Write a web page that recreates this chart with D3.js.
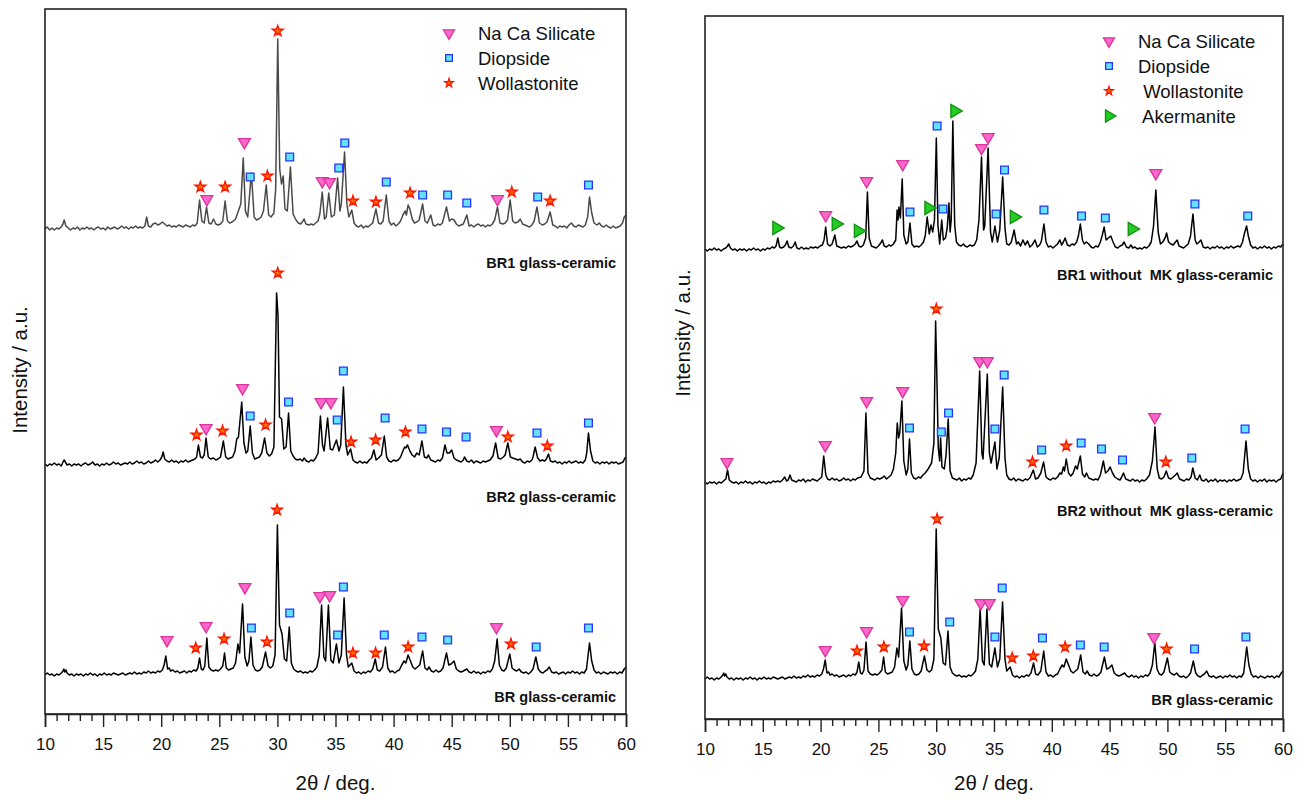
<!DOCTYPE html>
<html><head><meta charset="utf-8">
<script src="https://cdn.jsdelivr.net/npm/d3@7"></script>
<style>body{margin:0;background:#fff} text{font-family:"Liberation Sans",Arial,sans-serif}</style>
</head><body><svg id="c" width="1304" height="800"></svg>
<script>
// ---------- axis / labels ----------
const TICKS = d3.range(10, 61, 1);
const TICK_LABELS = [10, 15, 20, 25, 30, 35, 40, 45, 50, 55, 60];
const X_TITLE = "2θ / deg.";
const Y_TITLE = "Intensity / a.u.";
const LEGEND_LEFT = ["Na Ca Silicate", "Diopside", "Wollastonite"];
const LEGEND_LEFT_KEYS = ["nacas", "diop", "woll"];
const LEGEND_RIGHT = ["Na Ca Silicate", "Diopside", " Wollastonite", " Akermanite"];
const LEGEND_RIGHT_KEYS = ["nacas", "diop", "woll", "aker"];
const LABELS_LEFT = ["BR1 glass-ceramic", "BR2 glass-ceramic", "BR glass-ceramic"];
const LABELS_RIGHT = ["BR1 without  MK glass-ceramic", "BR2 without  MK glass-ceramic", "BR glass-ceramic"];
// vertical stacking offsets of each pattern (a.u.)
const OFFSETS_LEFT = [485, 249, 39];
const OFFSETS_RIGHT = [469, 236, 40];

// ---------- patterns: [2theta, intensity above own baseline] ----------
const BR1 = [10.0,0,10.2,2,10.4,-1,10.6,1,10.8,-1,11.0,1,11.2,0,11.4,2,11.55,5,11.65,9,11.8,3,12.0,1,12.2,-1,12.4,1,12.6,0,12.8,2,13.0,-1,13.2,1,13.4,0,13.6,2,13.8,0,14.0,1,14.2,-1,14.4,1,14.6,2,14.8,0,15.0,1,15.2,-1,15.4,2,15.6,0,15.8,1,16.0,2,16.2,0,16.4,1,16.6,3,16.8,1,17.0,2,17.2,0,17.4,2,17.6,1,17.8,3,18.0,1,18.2,2,18.4,1,18.6,3,18.75,12,18.9,3,19.1,2,19.3,5,19.5,6,19.7,4,19.9,5,20.1,7,20.3,5,20.5,3,20.7,4,20.9,2,21.1,3,21.3,2,21.5,4,21.7,3,21.9,2,22.1,4,22.3,3,22.5,2,22.7,4,22.9,3,23.1,6,23.3,29,23.5,8,23.7,6,23.9,22,24.1,6,24.3,5,24.5,10,24.7,5,24.9,4,25.1,5,25.3,8,25.5,28,25.7,8,25.9,6,26.1,7,26.4,10,26.7,20,26.85,25,27.06,71,27.25,18,27.45,12,27.76,56,28.0,12,28.2,9,28.4,10,28.6,12,28.8,18,29.04,44,29.25,14,29.45,12,29.7,16,29.85,40,30.03,190,30.2,60,30.35,45,30.5,53,30.65,20,30.85,18,31.12,62,31.35,15,31.6,9,31.8,6,32.0,5,32.2,8,32.3,10,32.45,5,32.7,4,32.9,5,33.1,4,33.3,6,33.5,8,33.65,15,33.86,37,34.05,10,34.2,12,34.42,36,34.65,12,34.9,14,35.18,51,35.38,18,35.5,25,35.78,77,35.98,25,36.15,12,36.4,19,36.6,6,36.8,3,37.0,2,37.2,4,37.4,1,37.6,3,37.8,2,38.0,4,38.2,6,38.48,20,38.7,6,38.9,5,39.1,8,39.37,34,39.6,8,39.8,4,40.0,6,40.2,3,40.4,5,40.6,8,40.8,14,41.0,18,41.1,14,41.25,24,41.4,20,41.6,10,41.8,6,42.0,7,42.2,9,42.5,25,42.7,8,42.9,6,43.2,14,43.4,4,43.6,3,43.8,5,44.0,4,44.2,6,44.55,22,44.8,8,45.0,10,45.2,9,45.4,5,45.6,3,45.8,4,46.0,5,46.3,14,46.5,3,46.7,4,46.9,2,47.1,4,47.3,5,47.5,3,47.7,4,47.9,2,48.1,4,48.3,3,48.5,5,48.7,9,48.94,22,49.15,6,49.4,5,49.6,6,49.8,9,50.03,29,50.25,8,50.45,6,50.7,7,50.9,10,51.1,5,51.3,4,51.5,3,51.7,2,51.9,4,52.1,8,52.34,22,52.55,6,52.8,4,53.0,5,53.2,7,53.47,17,53.7,4,53.9,3,54.1,1,54.3,3,54.5,2,54.7,3,54.9,1,55.1,4,55.3,6,55.5,3,55.7,2,55.9,4,56.1,3,56.3,2,56.5,4,56.7,12,56.86,32,57.05,16,57.25,6,57.5,4,57.7,6,57.9,3,58.1,2,58.3,4,58.5,2,58.7,1,58.9,3,59.1,1,59.3,2,59.5,3,59.7,6,59.85,12,60.0,14];

const BR2 = [10.0,1,10.2,-1,10.4,1,10.6,0,10.8,2,11.0,0,11.2,1,11.4,-1,11.55,3,11.65,5,11.75,3,11.9,0,12.1,1,12.3,-1,12.5,1,12.7,0,12.9,1,13.1,-1,13.3,1,13.5,2,13.7,0,13.9,1,14.1,3,14.3,0,14.5,1,14.7,-1,14.9,1,15.1,0,15.3,2,15.5,0,15.7,1,15.9,3,16.1,1,16.3,2,16.5,0,16.7,1,16.9,2,17.1,1,17.3,3,17.5,1,17.7,2,17.9,4,18.1,2,18.3,3,18.5,1,18.7,2,18.9,4,19.1,2,19.3,3,19.5,5,19.7,3,19.9,5,20.05,8,20.17,13,20.3,6,20.5,4,20.7,3,20.9,5,21.1,3,21.3,4,21.5,2,21.7,4,21.9,3,22.1,5,22.3,3,22.5,4,22.7,5,22.9,6,23.05,8,23.2,20,23.38,8,23.55,7,23.7,10,23.86,27,24.05,8,24.25,6,24.5,7,24.7,5,24.9,6,25.1,8,25.35,24,25.55,8,25.75,6,25.95,7,26.15,8,26.35,14,26.5,26,26.65,28,26.93,63,27.12,22,27.3,12,27.45,14,27.66,39,27.85,12,28.05,6,28.25,7,28.45,8,28.65,12,28.9,27,29.1,12,29.3,9,29.5,11,29.7,18,29.93,172,30.05,150,30.18,48,30.36,46,30.55,16,30.75,18,30.96,52,31.15,14,31.35,9,31.55,6,31.75,5,31.95,6,32.15,4,32.3,7,32.5,4,32.7,3,32.9,5,33.1,4,33.3,7,33.5,12,33.7,49,33.88,20,34.02,14,34.32,47,34.55,16,34.75,15,35.08,25,35.3,14,35.45,20,35.68,78,35.9,20,36.05,10,36.3,16,36.5,5,36.7,3,36.9,2,37.1,4,37.3,2,37.5,3,37.7,2,37.9,5,38.1,7,38.3,15,38.5,5,38.7,7,38.95,10,39.2,29,39.4,8,39.6,4,39.8,3,40.0,5,40.2,4,40.4,5,40.6,8,40.8,14,40.95,18,41.05,17,41.2,20,41.4,14,41.6,10,41.8,8,42.0,12,42.2,10,42.44,24,42.65,8,42.85,7,43.0,10,43.2,5,43.4,4,43.6,3,43.8,5,44.0,4,44.2,7,44.42,20,44.6,12,44.8,12,45.0,15,45.2,7,45.4,5,45.6,4,45.8,3,46.0,5,46.1,8,46.3,4,46.5,3,46.7,5,46.9,2,47.1,4,47.3,3,47.5,2,47.7,4,47.9,3,48.1,4,48.3,5,48.55,9,48.78,22,49.0,7,49.2,6,49.45,8,49.6,10,49.83,22,50.05,8,50.25,7,50.5,6,50.7,5,50.9,6,51.1,3,51.3,2,51.5,4,51.7,3,51.9,5,52.0,8,52.18,18,52.4,7,52.6,4,52.8,5,53.0,4,53.15,6,53.33,11,53.5,4,53.7,3,53.9,4,54.1,2,54.3,3,54.5,1,54.7,3,54.9,2,55.1,4,55.3,2,55.5,3,55.7,4,55.9,2,56.1,3,56.3,2,56.5,5,56.62,12,56.77,32,56.95,14,57.15,4,57.35,2,57.55,3,57.75,1,57.95,3,58.15,2,58.35,3,58.55,1,58.75,3,58.95,2,59.15,3,59.35,1,59.55,2,59.75,3,59.9,7,60.0,8];

const BR = [10.0,0,10.2,2,10.4,0,10.6,1,10.8,-1,11.0,1,11.2,0,11.4,2,11.55,4,11.62,6,11.7,3,11.8,5,11.9,2,12.1,0,12.3,1,12.5,-1,12.7,1,12.9,0,13.1,1,13.3,-1,13.5,1,13.7,0,13.9,2,14.1,0,14.3,1,14.5,-1,14.7,1,14.9,0,15.1,2,15.3,0,15.5,1,15.7,0,15.9,2,16.1,1,16.3,0,16.5,1,16.7,2,16.9,0,17.1,1,17.3,2,17.5,1,17.7,3,17.9,1,18.1,2,18.3,1,18.5,3,18.7,2,18.9,4,19.1,2,19.3,3,19.5,2,19.7,4,19.9,3,20.1,5,20.25,10,20.4,19,20.55,6,20.7,7,20.8,4,21.0,5,21.2,3,21.4,4,21.6,2,21.8,3,22.0,4,22.2,2,22.4,4,22.6,3,22.8,5,23.0,4,23.15,7,23.3,17,23.45,6,23.6,5,23.75,9,23.93,37,24.1,8,24.3,5,24.5,4,24.7,5,24.9,4,25.1,6,25.3,9,25.45,22,25.6,7,25.8,5,26.0,6,26.2,7,26.4,12,26.6,31,26.75,22,27.0,71,27.2,18,27.4,9,27.55,14,27.72,38,27.9,10,28.1,5,28.3,4,28.5,5,28.7,8,28.98,23,29.2,9,29.4,7,29.6,9,29.8,20,30.0,150,30.18,50,30.4,41,30.6,16,30.8,14,31.02,48,31.2,12,31.4,6,31.6,4,31.8,3,32.0,4,32.2,2,32.4,3,32.6,2,32.8,4,33.0,3,33.2,5,33.4,8,33.6,20,33.8,70,34.0,18,34.15,14,34.39,70,34.6,15,34.8,12,35.08,31,35.3,12,35.5,20,35.74,77,35.95,20,36.1,8,36.4,12,36.6,4,36.8,2,37.0,3,37.2,1,37.4,3,37.6,2,37.8,4,38.0,3,38.2,6,38.42,16,38.6,5,38.8,4,39.05,8,39.3,28,39.5,7,39.7,3,39.9,4,40.1,2,40.3,4,40.5,5,40.7,10,40.9,14,41.05,12,41.25,20,41.45,14,41.65,8,41.85,6,42.05,8,42.25,10,42.5,24,42.7,7,42.9,5,43.05,8,43.25,4,43.45,3,43.65,5,43.85,3,44.05,4,44.25,7,44.55,22,44.75,10,44.95,11,45.2,14,45.4,6,45.6,4,45.8,3,46.0,4,46.3,6,46.5,3,46.7,2,46.9,4,47.1,2,47.3,3,47.5,1,47.7,3,47.9,2,48.1,4,48.3,3,48.5,6,48.7,14,48.91,36,49.1,10,49.3,5,49.5,4,49.7,7,50.0,21,50.2,7,50.4,5,50.6,4,50.8,6,51.0,3,51.2,2,51.4,3,51.6,1,51.8,3,52.0,6,52.24,18,52.45,6,52.65,3,52.85,2,53.05,4,53.2,5,53.4,8,53.6,3,53.8,2,54.0,3,54.2,1,54.4,2,54.6,3,54.8,1,55.0,3,55.2,2,55.4,4,55.6,2,55.8,3,56.0,1,56.2,3,56.4,2,56.6,6,56.86,32,57.05,14,57.25,5,57.45,2,57.65,3,57.85,1,58.05,3,58.25,2,58.45,1,58.65,3,58.85,2,59.05,3,59.25,1,59.45,3,59.65,2,59.85,6,60.0,8];

const BR1_NOMK = [10.0,1,10.2,-1,10.4,1,10.6,0,10.8,2,11.0,0,11.2,1,11.4,-1,11.6,1,11.8,2,11.95,4,12.05,6,12.2,2,12.4,0,12.6,1,12.8,-1,13.0,1,13.2,0,13.4,1,13.6,-1,13.8,1,14.0,0,14.2,2,14.4,0,14.6,1,14.8,-1,15.0,1,15.2,0,15.4,2,15.6,1,15.8,3,16.0,2,16.15,4,16.3,12,16.45,3,16.6,2,16.8,3,16.95,5,17.1,9,17.25,3,17.45,2,17.65,4,17.8,8,17.95,2,18.15,1,18.35,3,18.55,1,18.75,2,18.95,1,19.15,3,19.35,2,19.55,3,19.75,2,19.95,4,20.15,5,20.3,10,20.44,23,20.6,6,20.8,4,21.0,6,21.23,15,21.4,4,21.6,3,21.8,2,22.0,3,22.2,2,22.4,4,22.6,3,22.8,4,23.0,6,23.15,9,23.3,4,23.5,3,23.7,5,23.9,12,24.05,58,24.2,12,24.4,4,24.6,3,24.8,2,25.0,4,25.2,7,25.35,10,25.5,4,25.7,3,25.9,5,26.1,4,26.3,6,26.5,10,26.62,40,26.7,30,26.78,43,26.9,32,27.06,71,27.2,15,27.4,6,27.55,8,27.73,27,27.9,6,28.1,3,28.3,4,28.5,3,28.7,5,28.9,8,29.05,14,29.22,33,29.4,16,29.55,25,29.7,18,29.85,30,30.01,112,30.15,25,30.3,6,30.48,30,30.62,10,30.8,12,30.95,22,31.1,47,31.2,18,31.3,30,31.44,129,31.6,25,31.75,8,31.95,5,32.15,4,32.35,6,32.5,4,32.7,3,32.9,5,33.1,4,33.3,5,33.5,10,33.7,30,33.92,93,34.1,20,34.2,24,34.49,102,34.7,18,34.85,8,35.08,24,35.3,8,35.5,20,35.75,73,35.95,22,36.1,6,36.3,5,36.5,8,36.74,20,36.95,6,37.1,8,37.3,4,37.5,10,37.7,5,37.9,9,38.1,3,38.3,5,38.55,10,38.75,3,38.95,5,39.1,9,39.32,26,39.5,8,39.7,3,39.9,4,40.1,2,40.3,4,40.5,6,40.7,10,40.85,5,41.0,8,41.15,12,41.35,5,41.55,4,41.75,6,41.95,5,42.15,8,42.3,14,42.47,26,42.65,10,42.8,6,43.0,8,43.2,6,43.4,3,43.6,2,43.8,4,44.0,3,44.2,8,44.35,14,44.53,23,44.7,10,44.9,12,45.1,14,45.3,8,45.5,3,45.7,2,45.9,4,46.1,5,46.25,8,46.45,3,46.65,2,46.85,5,47.0,2,47.2,3,47.4,1,47.6,2,47.8,1,48.0,3,48.2,2,48.4,4,48.6,8,48.8,24,49.0,60,49.2,18,49.4,6,49.6,8,49.8,12,49.93,17,50.1,8,50.3,6,50.5,5,50.7,8,50.85,10,51.0,4,51.2,3,51.4,2,51.6,4,51.8,6,52.0,14,52.21,36,52.4,10,52.55,6,52.75,8,52.9,10,53.1,3,53.3,2,53.5,3,53.7,1,53.9,3,54.1,2,54.3,4,54.5,2,54.7,3,54.9,1,55.1,3,55.3,2,55.5,4,55.7,2,55.9,3,56.1,4,56.3,3,56.5,8,56.65,16,56.85,24,57.0,14,57.2,5,57.4,2,57.6,3,57.8,1,58.0,3,58.2,2,58.4,4,58.6,2,58.8,3,59.0,1,59.2,3,59.4,2,59.6,4,59.8,3,60.0,6];

const BR2_NOMK = [10.0,1,10.2,-1,10.4,1,10.6,0,10.8,1,11.0,-1,11.2,1,11.4,0,11.6,2,11.8,4,11.95,13,12.1,3,12.3,1,12.5,0,12.7,1,12.9,-1,13.1,1,13.3,0,13.5,2,13.7,0,13.9,1,14.1,-1,14.3,1,14.5,0,14.7,2,14.9,0,15.1,1,15.3,-1,15.5,1,15.7,0,15.9,2,16.1,1,16.3,2,16.5,1,16.7,3,16.9,6,17.05,2,17.2,3,17.35,8,17.5,3,17.7,2,17.9,1,18.1,3,18.3,2,18.5,4,18.7,1,18.9,3,19.1,2,19.3,4,19.5,3,19.7,2,19.9,4,20.1,6,20.27,27,20.45,8,20.6,4,20.8,3,21.0,5,21.2,3,21.4,4,21.6,2,21.8,3,22.0,5,22.2,3,22.4,4,22.6,2,22.8,4,23.0,3,23.2,5,23.5,6,23.75,12,23.92,70,24.1,10,24.3,5,24.5,4,24.7,3,24.9,5,25.1,4,25.3,5,25.5,7,25.7,4,25.9,6,26.1,8,26.3,14,26.5,30,26.63,60,26.75,45,26.85,50,27.03,82,27.2,22,27.4,8,27.55,14,27.69,44,27.85,10,28.05,5,28.25,4,28.45,6,28.65,5,28.85,8,29.05,10,29.3,14,29.6,20,29.8,40,29.95,162,30.05,110,30.18,35,30.3,22,30.38,45,30.5,16,30.7,14,30.85,28,31.04,64,31.2,12,31.4,5,31.6,4,31.8,3,32.0,5,32.2,2,32.4,4,32.6,3,32.8,5,33.0,4,33.2,8,33.45,20,33.76,112,33.95,30,34.05,24,34.42,109,34.6,30,34.75,20,35.08,41,35.25,14,35.45,25,35.75,96,35.95,25,36.1,8,36.3,4,36.5,3,36.7,5,36.9,2,37.1,4,37.3,3,37.5,2,37.7,4,37.9,3,38.1,5,38.4,13,38.6,4,38.8,5,39.05,10,39.29,21,39.5,6,39.7,4,39.9,3,40.1,5,40.3,4,40.5,6,40.7,10,40.85,9,41.0,16,41.1,12,41.25,24,41.45,10,41.65,7,41.85,10,42.05,17,42.2,14,42.47,27,42.65,9,42.85,6,43.0,10,43.2,5,43.4,4,43.6,3,43.8,4,44.0,3,44.2,8,44.46,22,44.65,10,44.85,12,45.05,16,45.25,10,45.45,6,45.7,4,45.9,3,46.05,6,46.2,10,46.4,4,46.6,3,46.8,2,47.0,4,47.2,2,47.4,3,47.6,1,47.8,3,48.0,2,48.2,4,48.45,8,48.7,22,48.93,56,49.12,14,49.3,5,49.5,4,49.7,6,49.9,12,50.1,5,50.3,4,50.5,6,50.7,8,50.85,10,51.05,4,51.25,3,51.45,2,51.65,4,51.85,3,52.05,6,52.2,15,52.4,5,52.6,3,52.8,8,52.95,3,53.15,2,53.35,4,53.55,1,53.75,3,53.95,2,54.15,4,54.35,1,54.55,3,54.75,2,54.95,3,55.15,1,55.35,3,55.55,2,55.75,4,55.95,2,56.15,3,56.35,4,56.55,10,56.8,42,57.0,14,57.2,4,57.4,2,57.6,3,57.8,1,58.0,3,58.2,2,58.4,4,58.6,1,58.8,3,59.0,2,59.2,3,59.4,1,59.6,3,59.8,4,60.0,10];

// ---------- phase markers: [2theta, intensity above own baseline] ----------
const MK_BR1 = {
  nacas: [[27.16,87],[23.93,30],[33.86,48],[34.49,47],[48.94,30]],
  diop: [[27.66,52],[31.06,72],[35.28,61],[35.8,86],[39.37,47],[42.5,34],[44.65,34],[46.3,26],[52.4,32],[56.77,44]],
  woll: [[23.37,42],[25.5,42],[29.14,53],[30.03,198],[36.5,28],[38.48,27],[41.42,36],[50.17,37],[53.47,28]]
};
const MK_BR2 = {
  nacas: [[27.0,77],[23.86,37],[33.76,63],[34.6,63],[48.85,35]],
  diop: [[27.66,49],[30.96,63],[35.15,45],[35.68,94],[39.27,47],[42.44,36],[44.55,33],[46.24,28],[52.34,32],[56.77,42]],
  woll: [[23.04,30],[25.28,34],[28.98,40],[30.03,192],[36.34,23],[38.45,25],[41.02,33],[49.83,28],[53.23,19]]
};
const MK_BR_L = {
  nacas: [[20.5,35],[23.86,49],[27.2,88],[33.66,79],[34.49,80],[48.85,48]],
  diop: [[27.76,47],[31.06,62],[35.18,40],[35.68,88],[39.2,40],[42.44,38],[44.65,35],[52.27,28],[56.77,47]],
  woll: [[22.97,27],[25.41,36],[29.1,33],[29.97,165],[36.5,22],[38.45,22],[41.25,28],[50.1,31]]
};
const MK_BR1_NOMK = {
  nacas: [[20.44,35],[23.98,69],[27.1,86],[33.92,102],[34.49,113],[49.0,77]],
  diop: [[27.73,38],[30.08,124],[30.58,41],[35.18,36],[35.91,80],[39.32,40],[42.57,34],[44.63,32],[52.38,46],[56.95,34]],
  aker: [[16.2,22],[21.33,26],[23.25,19],[29.35,42],[31.6,139],[36.74,33],[46.94,21]]
};
const MK_BR2_NOMK = {
  nacas: [[11.9,21],[20.4,38],[23.98,82],[27.1,92],[33.76,122],[34.42,122],[48.9,66]],
  diop: [[27.69,55],[30.44,51],[31.07,70],[35.08,54],[35.88,108],[39.12,33],[42.54,40],[44.3,34],[46.12,23],[52.11,25],[56.72,54]],
  woll: [[30.01,174],[38.33,21],[41.25,37],[49.86,21]]
};
const MK_BR_R = {
  nacas: [[20.4,29],[23.98,48],[27.1,79],[33.86,76],[34.59,76],[48.83,42]],
  diop: [[27.69,47],[31.17,57],[35.08,42],[35.71,91],[39.19,41],[42.47,34],[44.53,32],[52.35,30],[56.79,42]],
  woll: [[23.15,28],[25.47,32],[28.95,33],[30.08,160],[36.57,21],[38.4,23],[41.15,32],[49.93,30]]
};

// ---------- styles ----------
const STYLE = {
  nacas: {type: d3.symbolTriangle, size: 62, leg: 0.85, rot: 180, fill: "#ff66cc", stroke: "#d9369e"},
  diop:  {type: d3.symbolSquare,   size: 60, leg: 0.75, rot: 0,   fill: "#62e2ff", stroke: "#2236ff"},
  woll:  {type: d3.symbolStar,     size: 36, leg: 0.65, rot: 0,   fill: "#ff6a00", stroke: "#ff1500"},
  aker:  {type: d3.symbolTriangle, size: 75, leg: 0.85, rot: 90,  fill: "#22cc22", stroke: "#0e8f0e"}
};

const pairs = a => { const r = []; for (let i = 0; i < a.length; i += 2) r.push([a[i], a[i+1]]); return r; };

const svg = d3.select("#c");

function panel(cfg) {
  const g = svg.append("g");
  const x = d3.scaleLinear().domain([10, 60]).range([cfg.x0, cfg.x1]);
  const y = d3.scaleLinear().domain([0, cfg.ymax]).range([cfg.y1, cfg.y0]);

  // traces
  cfg.series.forEach((s, i) => {
    const off = cfg.offsets[i];
    const line = d3.line().x(d => x(d[0])).y(d => y(d[1] + off));
    g.append("path").datum(pairs(s.data)).attr("d", line)
      .attr("fill", "none").attr("stroke", s.color).attr("stroke-width", 1.5)
      .attr("stroke-linejoin", "round");
  });

  // markers
  cfg.series.forEach((s, i) => {
    const off = cfg.offsets[i];
    Object.keys(s.markers).forEach(k => {
      const st = STYLE[k];
      g.selectAll(null).data(s.markers[k]).enter().append("path")
        .attr("d", d3.symbol().type(st.type).size(st.size)())
        .attr("transform", d => `translate(${x(d[0])},${y(d[1] + off)}) rotate(${st.rot})`)
        .attr("fill", st.fill).attr("stroke", st.stroke).attr("stroke-width", 1.3);
    });
  });

  // sample labels
  cfg.series.forEach((s, i) => {
    g.append("text").attr("x", cfg.x1 - 10).attr("y", y(cfg.offsets[i]) + cfg.labelDy[i])
      .attr("text-anchor", "end").attr("font-size", 14.5).attr("font-weight", "bold")
      .style("white-space", "pre").attr("fill", "#111").text(s.label);
  });

  // frame
  g.append("rect").attr("x", cfg.x0).attr("y", cfg.y0)
    .attr("width", cfg.x1 - cfg.x0).attr("height", cfg.y1 - cfg.y0)
    .attr("fill", "none").attr("stroke", "#222").attr("stroke-width", 1.6);

  // bottom axis
  const ax = g.append("g").attr("transform", `translate(0,${cfg.y1})`)
    .call(d3.axisBottom(x).tickValues(TICKS).tickSize(13).tickPadding(11)
      .tickFormat(d => TICK_LABELS.includes(d) ? d : ""));
  ax.select(".domain").attr("stroke", "#222").attr("stroke-width", 1.6);
  ax.selectAll(".tick line").attr("stroke", "#222").attr("stroke-width", 1.4)
    .attr("y2", d => TICK_LABELS.includes(d) ? 13 : 7);
  ax.selectAll(".tick text").attr("font-size", 17).attr("fill", "#111")
    .attr("font-family", "'Liberation Sans',Arial,sans-serif");

  // axis titles
  g.append("text").attr("x", (cfg.x0 + cfg.x1) / 2).attr("y", 790)
    .attr("text-anchor", "middle").attr("font-size", 20.5).attr("fill", "#111").text(X_TITLE);
  g.append("text").attr("transform", `translate(${cfg.yTitleX},${cfg.yTitleY}) rotate(-90)`)
    .attr("text-anchor", "middle").attr("font-size", 20.5).attr("fill", "#111").text(Y_TITLE);

  // legend
  cfg.legend.forEach((name, i) => {
    const st = STYLE[cfg.legendKeys[i]];
    const ly = cfg.legY + i * 25;
    g.append("path").attr("d", d3.symbol().type(st.type).size(st.size * st.leg)())
      .attr("transform", `translate(${cfg.legX},${ly}) rotate(${st.rot})`)
      .attr("fill", st.fill).attr("stroke", st.stroke).attr("stroke-width", 1.3);
    g.append("text").attr("x", cfg.legX + 29).attr("y", ly + 6.5).attr("font-size", 18.5)
      .style("white-space", "pre").attr("fill", "#111").text(name);
  });
}

panel({
  x0: 45, x1: 626, y0: 9, y1: 714, ymax: 705,
  offsets: OFFSETS_LEFT,
  series: [
    {data: BR1, color: "#4a4a4a", markers: MK_BR1, label: LABELS_LEFT[0]},
    {data: BR2, color: "#000", markers: MK_BR2, label: LABELS_LEFT[1]},
    {data: BR, color: "#000", markers: MK_BR_L, label: LABELS_LEFT[2]}
  ],
  labelDy: [39, 37, 27],
  legend: LEGEND_LEFT, legendKeys: LEGEND_LEFT_KEYS, legX: 449, legY: 33,
  yTitleX: 27, yTitleY: 370
});

panel({
  x0: 705, x1: 1283, y0: 16, y1: 719, ymax: 703,
  offsets: OFFSETS_RIGHT,
  series: [
    {data: BR1_NOMK, color: "#000", markers: MK_BR1_NOMK, label: LABELS_RIGHT[0]},
    {data: BR2_NOMK, color: "#000", markers: MK_BR2_NOMK, label: LABELS_RIGHT[1]},
    {data: BR, color: "#000", markers: MK_BR_R, label: LABELS_RIGHT[2]}
  ],
  labelDy: [30, 33, 26],
  legend: LEGEND_RIGHT, legendKeys: LEGEND_RIGHT_KEYS, legX: 1109, legY: 41,
  yTitleX: 690, yTitleY: 333
});
</script></body></html>
